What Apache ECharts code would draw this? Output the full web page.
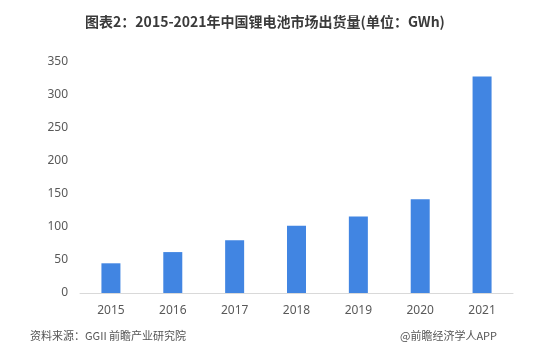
<!DOCTYPE html>
<html>
<head>
<meta charset="utf-8">
<script src="https://cdn.jsdelivr.net/npm/echarts@6/dist/echarts.min.js"></script>
<style>html,body{margin:0;padding:0;background:#fff;}#c{width:554px;height:360px;}</style>
</head>
<body>
<div id="c"></div>
<script>
const categories = ['2015','2016','2017','2018','2019','2020','2021'];
const values = [45, 62, 80, 102, 116, 142, 328];
const yTicks = [0, 50, 100, 150, 200, 250, 300, 350];
const titleText = '图表2：2015-2021年中国锂电池市场出货量(单位：GWh)';
const sourceText = '资料来源：GGII 前瞻产业研究院';
const brandText = '@前瞻经济学人APP';

const chart = echarts.init(document.getElementById('c'), null, {renderer: 'canvas'});
chart.setOption({
  animation: false,
  backgroundColor: '#ffffff',
  title: {
    text: titleText,
    left: 260, top: 10, textAlign: 'center',
    textStyle: {fontFamily: 'Noto Sans CJK SC', fontSize: 14, fontWeight: 'bold', color: '#3a3a3a'}
  },
  graphic: [
    {type: 'text', left: 30, top: 330, style: {text: sourceText, font: '11px "Noto Sans CJK SC"', fill: '#555'}},
    {type: 'text', right: 57, top: 330, style: {text: brandText, font: '11px "Noto Sans CJK SC"', fill: '#555'}}
  ],
  grid: {left: 80, right: 41, top: 62, bottom: 67},
  xAxis: {
    type: 'category', data: categories,
    axisLine: {lineStyle: {color: '#d9d9d9', width: 1}},
    axisTick: {show: false},
    axisLabel: {color: '#595959', fontSize: 12, margin: 12, fontFamily: 'Noto Sans'}
  },
  yAxis: {
    type: 'value', min: yTicks[0], max: yTicks[yTicks.length-1], interval: 50,
    axisLine: {show: false}, axisTick: {show: false},
    splitLine: {show: false},
    axisLabel: {color: '#595959', fontSize: 12, margin: 12, fontFamily: 'Noto Sans'}
  },
  series: [{
    type: 'bar', data: values, barWidth: 19,
    itemStyle: {color: '#4185e2'}
  }]
});
</script>
</body>
</html>
